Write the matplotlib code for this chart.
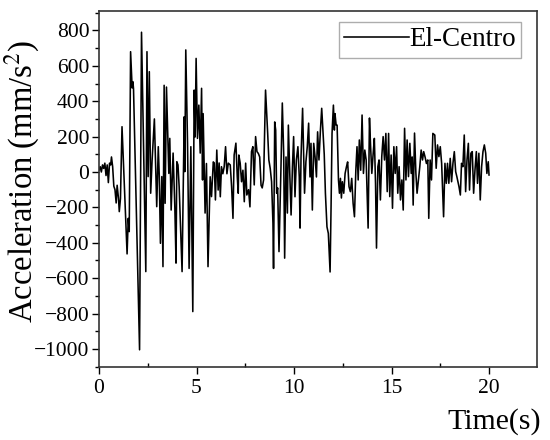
import matplotlib
matplotlib.use("Agg")
import matplotlib.pyplot as plt
from matplotlib.ticker import MultipleLocator

# El-Centro record, values (time in s, acceleration in mm/s^2)
time_s = [
    0.00, 0.06, 0.12, 0.18, 0.24, 0.30, 0.36, 0.42, 0.48, 0.54, 0.60, 0.64, 0.70, 0.76, 0.82, 0.88, 0.93,
    1.00, 1.04, 1.10, 1.18, 1.44, 1.50, 1.55, 1.62, 1.70, 1.74, 1.77, 2.08, 2.18, 2.40, 2.46, 2.52, 2.58,
    2.65, 2.72, 2.84, 2.90, 2.96, 3.04, 3.09, 3.15, 3.22, 3.28, 3.34, 3.39, 3.46, 3.58, 3.63, 3.70, 3.80,
    3.89, 3.95, 3.99, 4.05, 4.11, 4.26, 4.37, 4.40, 4.45, 4.54, 4.62, 4.71, 4.81, 4.88, 4.93, 4.98, 5.05,
    5.12, 5.19, 5.26, 5.31, 5.34, 5.44, 5.51, 5.59, 5.70, 5.77, 5.86, 5.91, 5.97, 6.04, 6.11, 6.16, 6.22,
    6.28, 6.35, 6.42, 6.49, 6.56, 6.63, 6.73, 6.80, 6.87, 6.93, 7.02, 7.09, 7.14, 7.17, 7.24, 7.31, 7.38,
    7.45, 7.52, 7.58, 7.67, 7.74, 7.82, 7.89, 7.96, 8.03, 8.10, 8.17, 8.24, 8.31, 8.37, 8.44, 8.54, 8.65,
    8.71, 8.78, 8.85, 8.92, 8.95, 9.01, 9.06, 9.11, 9.16, 9.23, 9.33, 9.40, 9.47, 9.52, 9.59, 9.66, 9.71,
    9.78, 9.85, 9.92, 9.98, 10.05, 10.12, 10.20, 10.27, 10.31, 10.36, 10.44, 10.49, 10.54, 10.61, 10.68,
    10.75, 10.82, 10.87, 10.94, 11.01, 11.08, 11.15, 11.21, 11.28, 11.35, 11.42, 11.49, 11.55, 11.61,
    11.69, 11.76, 11.85, 11.90, 11.95, 12.02, 12.07, 12.10, 12.16, 12.21, 12.28, 12.33, 12.38, 12.43,
    12.48, 12.55, 12.62, 12.69, 12.75, 12.82, 12.89, 12.96, 13.03, 13.10, 13.17, 13.23, 13.29, 13.35,
    13.42, 13.49, 13.56, 13.63, 13.70, 13.75, 13.80, 13.87, 13.92, 13.99, 14.06, 14.12, 14.18, 14.23,
    14.30, 14.36, 14.43, 14.50, 14.57, 14.64, 14.71, 14.78, 14.85, 14.91, 14.98, 15.05, 15.12, 15.19,
    15.26, 15.32, 15.39, 15.46, 15.53, 15.60, 15.67, 15.74, 15.80, 15.87, 15.94, 16.01, 16.06, 16.11,
    16.18, 16.25, 16.31, 16.38, 16.45, 16.52, 16.59, 16.65, 16.72, 16.79, 16.86, 16.91, 16.98, 17.05,
    17.12, 17.22, 17.29, 17.36, 17.43, 17.50, 17.57, 17.67, 17.74, 17.81, 17.87, 17.94, 18.01, 18.08,
    18.15, 18.22, 18.29, 18.35, 18.46, 18.53, 18.59, 18.66, 18.73, 18.80, 18.87, 18.94, 19.00, 19.07,
    19.14, 19.21, 19.28, 19.35, 19.41, 19.48, 19.55, 19.62, 19.69, 19.76, 19.83, 19.89, 19.96, 20.00,
]
accel = [
    10, 30, 0, 40, 20, 50, -20, 40, -60, 50, 40, 85, 30, -80, -100, -175, -75,
    -150, -224, -150, 256, -463, -262, -337, 680, 475, 510, 470, -1005, 790, -563, 680, -26, 567,
    -120, 60, 300, 60, -196, 143, -20, -403, -26, -535, 490, -177, 480, -8, 190, -215, 107,
    -205, -515, 58, 40, -83, -563, 312, 2, 690, 162, -545, 143, -789, 463, 198, 642, 190,
    378, 107, 473, -45, 330, -232, 48, -535, -27, -139, 57, 51, -158, 124, -102, 51, -140,
    30, -10, 30, 143, -10, 50, 40, -83, -262, 96, 163, -26, -120, 96, 50, -55, 10,
    -168, 50, -130, -100, -197, 115, 143, -73, 200, 115, 105, 85, -75, -90, -45, 463, 218,
    68, 20, -55, -290, -545, 283, 237, -120, -90, -450, 20, 390, 106, -487, 85, -232, 265,
    0, -243, 30, 200, -140, 68, 143, -28, -317, 85, 360, 106, -120, 57, 143,
    276, -28, 162, -215, 162, 85, -28, 227, 68, 227, 360, 218, 100, -120,
    -310, -347, -565, -196, 218, 378, 237, 330, 265, 265, -45, -120, -36, -147,
    -55, -120, -8, 30, 57, -83, -111, -36, -177, -253, 10, 143, -45, 181,
    10, 322, -8, 124, 68, -120, -317, 305, 162, -8, 106, 190, -64, -430,
    30, 68, -158, 87, 200, 68, 218, -111, 218, -139, 96, -205, 143, -8,
    143, -120, 30, -158, -45, -215, 247, -45, 181, -26, 162, -8, 85, -187,
    220, -8, -120, -45, 30, 124, 68, 115, 85, 48, 68, -262, 68, -45,
    218, 209, 21, 153, 87, 143, 49, -253, 49, -64, 49, -64, 77, -55,
    49, 115, 2, -26, -83, -130, 49, 30, 209, -111, 68, 162, -102, 106,
    115, -120, 11, 115, -64, 106, -158, 30, 115, 153, 106, -8, 58, -17,
]

x_ticks = [0, 5, 10, 15, 20]
y_ticks = [-1000, -800, -600, -400, -200, 0, 200, 400, 600, 800]

plt.rcParams['font.family'] = ['Liberation Serif', 'DejaVu Serif']
plt.rcParams['mathtext.fontset'] = 'stix'

fig = plt.figure(figsize=(5.5, 4.4), dpi=100)
ax = fig.add_axes([0.18, 0.166, 0.796, 0.809])

ax.plot(time_s, accel, color='black', linewidth=1.15, label='El-Centro')

ax.set_xlim(0, 22.45)
ax.set_ylim(-1102, 910)
ax.set_xticks(x_ticks)
ax.set_yticks(y_ticks)
ax.xaxis.set_minor_locator(MultipleLocator(2.5))
ax.yaxis.set_minor_locator(MultipleLocator(100))
ax.tick_params(which='major', direction='out', length=5, width=1.0, labelsize=15.5, pad=2)
ax.tick_params(axis='x', which='major', pad=4)
ax.tick_params(axis='x', which='minor', direction='in', length=3, width=1.0)
ax.tick_params(axis='y', which='minor', direction='out', length=3, width=1.0)
ax.set_yticklabels([str(v).replace('-', '\u2212') for v in y_ticks])

for sp in ax.spines.values():
    sp.set_linewidth(1.2)
    sp.set_color('#333333')

ax.set_ylabel('Acceleration (mm/s$^2$)', fontsize=23.5)
ax.yaxis.set_label_coords(-0.13, 0.52)
ax.set_xlabel('Time(s)', fontsize=21.5)
ax.xaxis.set_label_coords(1.01, -0.115)
ax.xaxis.label.set_horizontalalignment('right')

leg = ax.legend(loc='upper right', bbox_to_anchor=(0.965, 0.97), fontsize=19.5,
                frameon=True, fancybox=False, handlelength=2.4, handletextpad=0.0,
                borderpad=0.2, borderaxespad=0.0)
leg.get_frame().set_edgecolor('#999999')
leg.get_frame().set_linewidth(1.0)

fig.savefig('out.png', dpi=100)
